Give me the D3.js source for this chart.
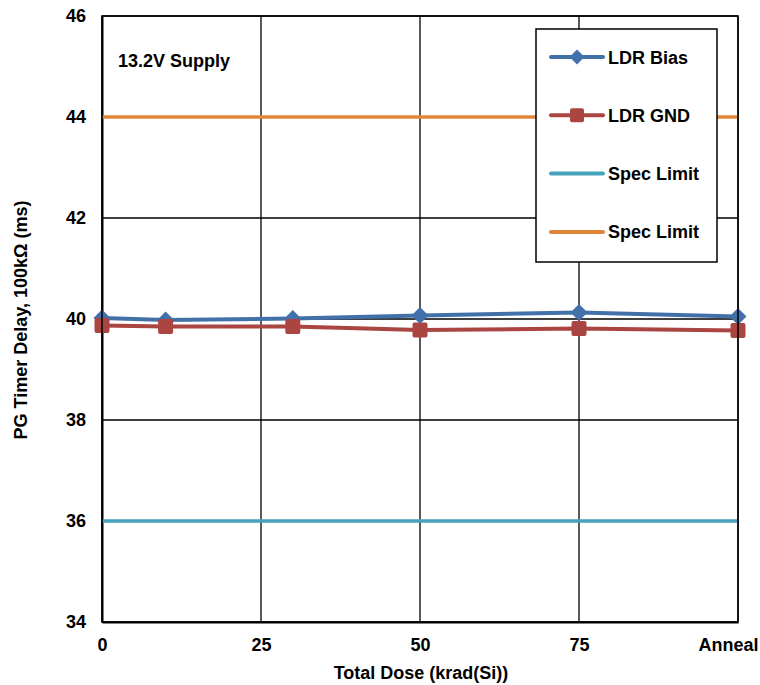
<!DOCTYPE html>
<html><head><meta charset="utf-8">
<script src="https://cdn.jsdelivr.net/npm/d3@7"></script>
<style>body{margin:0;background:#fff}text{font-family:Arial,"Liberation Sans",sans-serif;font-weight:bold}</style>
</head><body><svg id="c" width="760" height="685"></svg>
<script>
const doses = [0, 10, 30, 50, 75, 100];
const ldrBias = [40.02, 39.98, 40.01, 40.07, 40.13, 40.05];
const ldrGnd = [39.87, 39.85, 39.85, 39.78, 39.81, 39.77];
const specLow = 36;
const specHigh = 44;
const xTickVals = [0, 25, 50, 75, 100];
const xTickLabels = ["0", "25", "50", "75", "Anneal"];
const yTicks = [34, 36, 38, 40, 42, 44, 46];
const colors = {bias:"#4271AA", gnd:"#AA4542", specLow:"#47A2BB", specHigh:"#E0873A"};

const FS = 18;
const svg = d3.select("#c");
const L=102, R=738, T=16, B=622;
const x = d3.scaleLinear().domain([0,100]).range([L,R]);
const y = d3.scaleLinear().domain([34,46]).range([B,T]);
const diamond = s => `M0,${-s}L${s},0L0,${s}L${-s},0Z`;

// grid
svg.append("g").selectAll("line").data(xTickVals).join("line")
 .attr("x1",d=>x(d)).attr("x2",d=>x(d)).attr("y1",T).attr("y2",B)
 .attr("stroke","#000").attr("stroke-width",1.3);
svg.append("g").selectAll("line").data(yTicks).join("line")
 .attr("x1",L).attr("x2",R).attr("y1",d=>y(d)).attr("y2",d=>y(d))
 .attr("stroke","#000").attr("stroke-width",1.3);

// axes labels
const ya = svg.append("g").attr("transform",`translate(${L},0)`)
 .call(d3.axisLeft(y).tickValues(yTicks).tickSize(0).tickPadding(16));
ya.select(".domain").attr("stroke","#000").attr("stroke-width",2);
ya.selectAll("text").attr("font-size",FS).attr("fill","#000").style("font-family","Arial, 'Liberation Sans', sans-serif").style("font-weight","bold");
const xa = svg.append("g").attr("transform",`translate(0,${B})`)
 .call(d3.axisBottom(x).tickValues(xTickVals).tickFormat((d,i)=>xTickLabels[i]).tickSize(0).tickPadding(16));
xa.select(".domain").attr("stroke","#000").attr("stroke-width",2);
xa.selectAll("text").attr("font-size",FS).attr("fill","#000").style("font-family","Arial, 'Liberation Sans', sans-serif").style("font-weight","bold");
xa.selectAll(".tick text").filter((d,i)=>i===xTickVals.length-1).attr("dx",-10);

// spec lines
[[specLow,colors.specLow],[specHigh,colors.specHigh]].forEach(([v,c])=>{
 svg.append("line").attr("x1",L).attr("x2",R).attr("y1",y(v)).attr("y2",y(v))
  .attr("stroke",c).attr("stroke-width",3.5);
});

const line = d3.line().x((d,i)=>x(doses[i])).y(d=>y(d));
svg.append("path").datum(ldrGnd).attr("d",line).attr("fill","none").attr("stroke",colors.gnd).attr("stroke-width",4);
svg.append("path").datum(ldrBias).attr("d",line).attr("fill","none").attr("stroke",colors.bias).attr("stroke-width",4);
svg.append("g").selectAll("path").data(ldrBias).join("path")
 .attr("d",diamond(8.5)).attr("transform",(d,i)=>`translate(${x(doses[i])},${y(d)})`).attr("fill",colors.bias);
svg.append("g").selectAll("rect").data(ldrGnd).join("rect")
 .attr("x",(d,i)=>x(doses[i])-7.5).attr("y",d=>y(d)-7.5).attr("width",15).attr("height",15).attr("rx",2)
 .attr("fill",colors.gnd);

// frame
svg.append("rect").attr("x",L).attr("y",T).attr("width",R-L).attr("height",B-T).attr("fill","none").attr("stroke","#000").attr("stroke-width",1.5);

// annotation
svg.append("text").attr("x",118).attr("y",67).attr("font-size",FS).text("13.2V Supply");

// legend
const lg = svg.append("g");
lg.append("rect").attr("x",536).attr("y",29).attr("width",181).attr("height",233).attr("fill","#fff").attr("stroke","#000").attr("stroke-width",1.5);
const items=[["LDR Bias",colors.bias,"d"],["LDR GND",colors.gnd,"s"],["Spec Limit",colors.specLow,""],["Spec Limit",colors.specHigh,""]];
items.forEach((it,i)=>{
 const yy=57+i*58.3;
 lg.append("line").attr("x1",551).attr("x2",603).attr("y1",yy).attr("y2",yy).attr("stroke",it[1]).attr("stroke-width",4).attr("stroke-linecap","round");
 if(it[2]==="d") lg.append("path").attr("d",diamond(7.5)).attr("transform",`translate(577,${yy})`).attr("fill",it[1]);
 if(it[2]==="s") lg.append("rect").attr("x",570).attr("y",yy-7).attr("width",14).attr("height",14).attr("rx",2).attr("fill",it[1]);
 lg.append("text").attr("x",608).attr("y",yy+6.5).attr("font-size",FS).text(it[0]);
});

// titles
svg.append("text").attr("x",421).attr("y",679).attr("text-anchor","middle").attr("font-size",FS).text("Total Dose (krad(Si))");
svg.append("text").attr("transform","translate(27,320) rotate(-90)").attr("text-anchor","middle").attr("font-size",FS).text("PG Timer Delay, 100kΩ (ms)");
</script></body></html>
